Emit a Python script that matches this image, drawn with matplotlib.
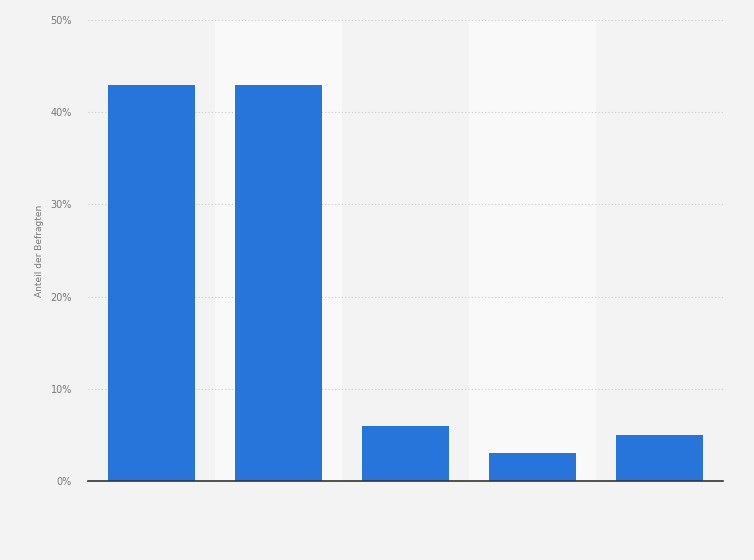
import numpy as np
import matplotlib
matplotlib.use('Agg')
import matplotlib.pyplot as plt
from matplotlib.ticker import FuncFormatter

# Data (x labels not shown in the reference)
categories = ['', ' ', '  ', '   ', '    ']
shares = [43, 43, 6, 3, 5]
y_ticks = [0, 10, 20, 30, 40, 50]

bg = '#f3f3f3'
band = '#f9f9f9'
bar_color = '#2775db'

fig = plt.figure(figsize=(7.54, 5.6), dpi=100, facecolor=bg)
ax = fig.add_axes([88 / 754, 79 / 560, (723 - 88) / 754, (481 - 20) / 560])
ax.set_facecolor(bg)

x = np.arange(len(categories))
# alternating lighter column bands
for i in x:
    if i % 2 == 1:
        ax.axvspan(i - 0.5, i + 0.5, color=band, zorder=0, lw=0)

ax.bar(x, shares, width=0.69, color=bar_color, edgecolor='none', zorder=3)

ax.set_xlim(-0.5, len(categories) - 0.5)
ax.set_ylim(0, 50)
ax.set_yticks(y_ticks)
ax.yaxis.set_major_formatter(FuncFormatter(lambda v, p: f'{v:.0f}%'))
ax.set_xticks(x)
ax.set_xticklabels(categories)
ax.tick_params(axis='x', length=0)
ax.tick_params(axis='y', length=0, labelsize=7, labelcolor='#777777', pad=11.5)

ax.yaxis.grid(True, linestyle=(0, (1, 2)), color='#cccccc', linewidth=0.8, zorder=1)
ax.set_axisbelow(True)

for s in ['top', 'right', 'left']:
    ax.spines[s].set_visible(False)
ax.spines['bottom'].set_color('#333333')
ax.spines['bottom'].set_linewidth(1.2)
ax.spines['bottom'].set_zorder(4)

ax.set_ylabel('Anteil der Befragten', fontsize=6.5, color='#777777')
ax.yaxis.set_label_coords(-0.069, 0.5)

fig.savefig('out.png', dpi=100, facecolor=bg)
